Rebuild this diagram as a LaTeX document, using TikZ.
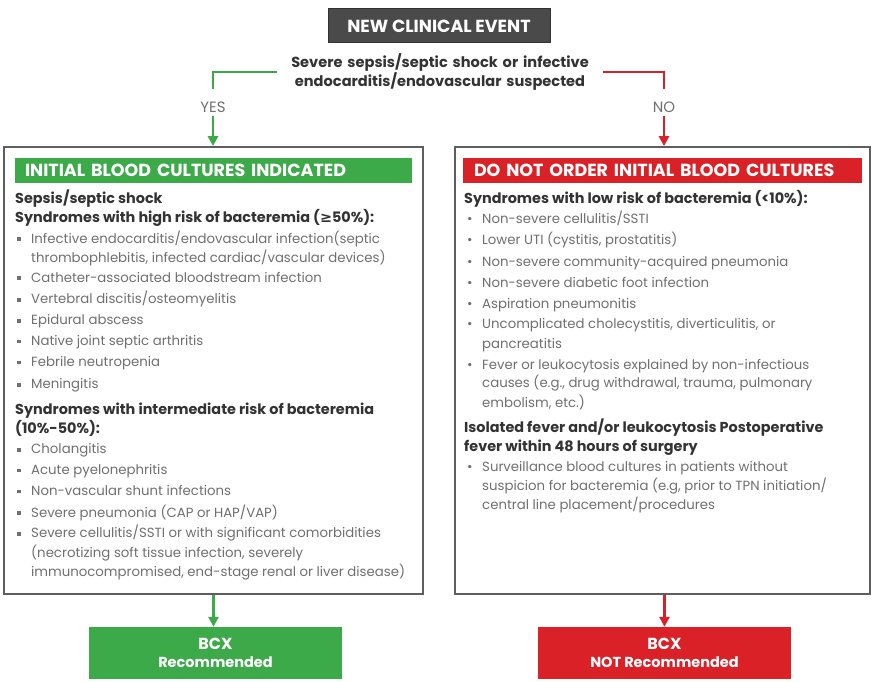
\documentclass[tikz,border=0pt]{standalone}
\usepackage{fontspec}
\setmainfont{Poppins}
\newfontfamily\symfont{DejaVu Sans}
\usetikzlibrary{arrows.meta,shadows}
\definecolor{cgreen}{HTML}{3DAA4A}
\definecolor{cred}{HTML}{DA2128}
\definecolor{cdark}{HTML}{4A4A4A}
\definecolor{chead}{HTML}{333333}
\definecolor{citem}{HTML}{707070}
\definecolor{cborder}{HTML}{5E5E5E}
\newcommand\sqb{\makebox[0pt][r]{\raisebox{2.2pt}{\rule{3.5pt}{3.5pt}}\hspace{10.5pt}}}
\newcommand\rdb{\makebox[0pt][r]{•\hspace{9.5pt}}}
\begin{document}
\begin{tikzpicture}[x=1pt,y=-1pt,
  hd/.style={anchor=west,inner sep=0pt,text height=10.5pt,text depth=2.5pt,text=chead,font=\fontsize{14.4}{16}\selectfont\bfseries},
  it/.style={anchor=west,inner sep=0pt,text height=10pt,text depth=2.5pt,text=citem,font=\fontsize{13.3}{16}\selectfont},
  bigbox/.style={draw=cborder,line width=1.8pt,fill=white,drop shadow={shadow xshift=1pt,shadow yshift=-1pt,fill=black!35}},
  hbar/.style={inner ysep=0pt,minimum height=25pt,text=white,align=left,font=\fontsize{17.5}{18}\selectfont\bfseries},
  outbox/.style={minimum width=253pt,minimum height=52pt,inner sep=0pt,text=white,align=center,font=\fontsize{14.5}{18.5}\selectfont\bfseries},
  gline/.style={cgreen,line width=2.8pt},
  rline/.style={cred,line width=2.8pt},
  tip/.style={-{Triangle[width=10pt,length=10pt]}},
  yn/.style={text=citem,inner sep=3pt,font=\fontsize{15}{16}\selectfont}]
\useasboundingbox (0,0) rectangle (871,682);

% top
\node[fill=cdark,draw=black!80,line width=1pt,minimum width=222pt,minimum height=34pt,text=white,font=\fontsize{17.5}{18}\selectfont\bfseries] (top) at (439,26) {NEW CLINICAL EVENT};
\node[align=center,text width=300pt,inner xsep=13pt,text=chead,font=\fontsize{14.6}{19}\selectfont\bfseries] (q) at (440,72) {Severe sepsis/septic shock or infective\\endocarditis/endovascular suspected};

% boxes
\node[bigbox,minimum width=419pt,minimum height=447pt] (lbox) at (213.5,370.5) {};
\node[bigbox,minimum width=415pt,minimum height=447pt] (rbox) at (662.5,370.5) {};
\node[hbar,fill=cgreen,text width=377pt,inner xsep=10pt] (lhead) at (213.5,170.5) {INITIAL BLOOD CULTURES INDICATED};
\node[hbar,fill=cred,text width=377pt,inner xsep=11pt] (rhead) at (662.5,170.5) {DO NOT ORDER INITIAL BLOOD CULTURES};

% connectors
\coordinate (gturn) at (213,89);
\coordinate (rturn) at (664,89);
\node[yn] (yes) at (213,107) {YES};
\node[yn] (no) at (664,107) {NO};
\draw[gline] (q.west) -| (gturn);
\draw[rline] (q.east) -| (rturn);
\draw[gline,tip] (yes.south) -- (yes |- lbox.north);
\draw[rline,tip] (no.south) -- (no |- rbox.north);

% outcome boxes
\node[outbox,fill=cgreen] (gout) at (215.5,653) {{\fontsize{16}{18.5}\selectfont BCX}\\Recommended};
\node[outbox,fill=cred] (rout) at (664.5,653) {{\fontsize{16}{18.5}\selectfont BCX}\\NOT Recommended};
\draw[gline,tip] (lbox.south) -- (lbox.south |- gout.north);
\draw[rline,tip] (rbox.south -| rout) -- (rout.north);

% left text
\node[hd] (l1) at (15,200) {Sepsis/septic shock};
\node[hd] (l2) at (15,218.3) {Syndromes with high risk of bacteremia ({\symfont ≥}50\%):};
\node[it] (l3) at (31,239.3) {\sqb Infective endocarditis/endovascular infection(septic};
\node[it] (l4) at (31,258.3) {thrombophlebitis, infected cardiac/vascular devices)};
\node[it] (l5) at (31,278.3) {\sqb Catheter-associated bloodstream infection};
\node[it] (l6) at (31,300) {\sqb Vertebral discitis/osteomyelitis};
\node[it] (l7) at (31,321) {\sqb Epidural abscess};
\node[it] (l8) at (31,341.7) {\sqb Native joint septic arthritis};
\node[it] (l9) at (31,362.7) {\sqb Febrile neutropenia};
\node[it] (l10) at (31,385) {\sqb Meningitis};
\node[hd] (l11) at (15,410) {Syndromes with intermediate risk of bacteremia};
\node[hd] (l12) at (15,429.3) {(10\%-50\%):};
\node[it] (l13) at (31,450) {\sqb Cholangitis};
\node[it] (l14) at (31,470.7) {\sqb Acute pyelonephritis};
\node[it] (l15) at (31,491.7) {\sqb Non-vascular shunt infections};
\node[it] (l16) at (31,513.3) {\sqb Severe pneumonia (CAP or HAP/VAP)};
\node[it] (l17) at (31,534) {\sqb Severe cellulitis/SSTI or with significant comorbidities};
\node[it] (l18) at (31,553.3) {(necrotizing soft tissue infection, severely};
\node[it] (l19) at (31,572.3) {immunocompromised, end-stage renal or liver disease)};

% right text
\node[hd] (r1) at (464,200) {Syndromes with low risk of bacteremia (<10\%):};
\node[it] (r2) at (482,220) {\rdb Non-severe cellulitis/SSTI};
\node[it] (r3) at (482,240.7) {\rdb Lower UTI (cystitis, prostatitis)};
\node[it] (r4) at (482,262.7) {\rdb Non-severe community-acquired pneumonia};
\node[it] (r5) at (482,283.3) {\rdb Non-severe diabetic foot infection};
\node[it] (r6) at (482,305) {\rdb Aspiration pneumonitis};
\node[it] (r7) at (482,325) {\rdb Uncomplicated cholecystitis, diverticulitis, or};
\node[it] (r8) at (482,345) {pancreatitis};
\node[it] (r9) at (482,366) {\rdb Fever or leukocytosis explained by non-infectious};
\node[it] (r10) at (482,384) {causes (e.g., drug withdrawal, trauma, pulmonary};
\node[it] (r11) at (482,403.3) {embolism, etc.)};
\node[hd] (r12) at (464,428.3) {Isolated fever and/or leukocytosis Postoperative};
\node[hd] (r13) at (464,447.3) {fever within 48 hours of surgery};
\node[it] (r14) at (482,467.3) {\rdb Surveillance blood cultures in patients without};
\node[it] (r15) at (482,486.7) {suspicion for bacteremia (e.g, prior to TPN initiation/};
\node[it] (r16) at (482,506) {central line placement/procedures};
\end{tikzpicture}
\end{document}
